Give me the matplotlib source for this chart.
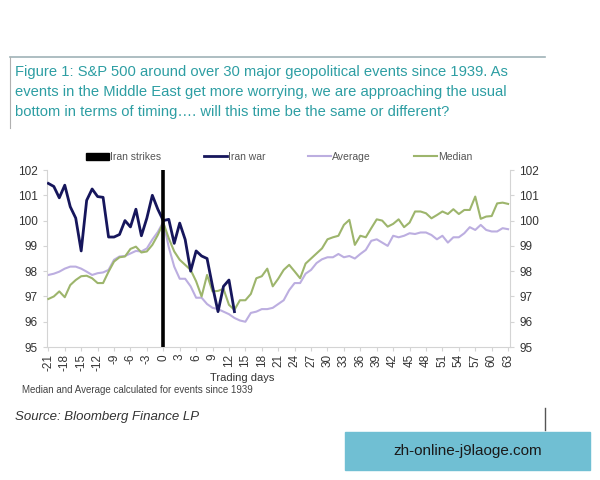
import matplotlib

matplotlib.use("Agg")
import matplotlib.pyplot as plt
from matplotlib.lines import Line2D
from matplotlib.patches import Rectangle

plt.rcParams["font.family"] = ["Liberation Sans", "DejaVu Sans"]

# ---------------------------------------------------------------------------
# Data (S&P 500 rebased to 100 at day 0)
# ---------------------------------------------------------------------------
war_days = list(range(-21, 14))
iran_war = [
    101.47, 101.35, 100.9, 101.4, 100.55, 100.1, 98.8, 100.8, 101.25, 100.95,
    100.92, 99.35, 99.35, 99.45, 100.0, 99.75, 100.45, 99.4, 100.1, 101.0,
    100.45, 100.0, 100.05, 99.1, 99.9, 99.25, 98.0, 98.8, 98.6, 98.5,
    97.4, 96.4, 97.4, 97.65, 96.4,
]

days = list(range(-21, 64))
average = [
    97.85, 97.9, 97.98, 98.1, 98.18, 98.18, 98.1, 97.98, 97.85, 97.92,
    97.95, 98.05, 98.45, 98.58, 98.6, 98.7, 98.8, 98.78, 98.9, 99.25,
    99.55, 99.95, 98.95, 98.18, 97.7, 97.7, 97.4, 96.95, 96.95, 96.7,
    96.55, 96.5, 96.4, 96.3, 96.15, 96.05, 96.0, 96.35, 96.4, 96.5,
    96.5, 96.55, 96.7, 96.85, 97.25, 97.53, 97.53, 97.9, 98.05, 98.32,
    98.47, 98.55, 98.55, 98.68, 98.55, 98.6, 98.5, 98.68, 98.84, 99.2,
    99.26, 99.13, 99.0, 99.4, 99.34, 99.4, 99.5, 99.47, 99.53, 99.53,
    99.43, 99.26, 99.4, 99.13, 99.34, 99.34, 99.5, 99.74, 99.63, 99.83,
    99.63, 99.57, 99.57, 99.7, 99.66,
]
median = [
    96.9, 97.0, 97.2, 96.97, 97.45, 97.65, 97.8, 97.82, 97.72, 97.53,
    97.53, 97.98, 98.38, 98.55, 98.58, 98.88, 98.97, 98.74, 98.78, 99.04,
    99.43, 99.92, 99.3, 98.78, 98.45, 98.25, 98.05, 97.6, 97.0, 97.85,
    97.2, 97.22, 97.3, 96.67, 96.47, 96.85, 96.85, 97.1, 97.72, 97.8,
    98.1, 97.4, 97.7, 98.05, 98.25, 97.99, 97.72, 98.3, 98.5, 98.7,
    98.9, 99.26, 99.34, 99.4, 99.83, 100.03, 99.04, 99.4, 99.34, 99.7,
    100.05, 100.0, 99.76, 99.87, 100.05, 99.74, 99.92, 100.36, 100.36, 100.29,
    100.09, 100.22, 100.36, 100.26, 100.45, 100.26, 100.42, 100.42, 100.95, 100.07,
    100.16, 100.18, 100.68, 100.71, 100.66,
]
strike_day = 0

title_lines = [
    "Figure 1: S&P 500 around over 30 major geopolitical events since 1939. As",
    "events in the Middle East get more worrying, we are approaching the usual",
    "bottom in terms of timing\u2026. will this time be the same or different?",
]
x_ticks = list(range(-21, 64, 3))
y_ticks = list(range(95, 103))

NAVY = "#16165c"
LAVENDER = "#bcaee0"
OLIVE = "#9db56c"
TEAL = "#2d9ea3"
SPINE = "#d4d4d4"

fig = plt.figure(figsize=(6.0, 4.8), dpi=100)
ax = fig.add_axes([0.0783, 0.277, 0.7717, 0.3688])

ax.plot(days, average, color=LAVENDER, lw=1.5, label="Average", zorder=2)
ax.plot(days, median, color=OLIVE, lw=1.5, label="Median", zorder=3)
ax.plot(war_days, iran_war, color=NAVY, lw=2.0, label="Iran war", zorder=4)
ax.vlines(strike_day, 95, 102, color="black", lw=2.6, zorder=5)

ax.set_xlim(-21.25, 63.35)
ax.set_ylim(95, 102)
ax.set_xticks(x_ticks)
ax.set_xticklabels([str(t) for t in x_ticks], rotation=90)
ax.set_yticks(y_ticks)
ax.tick_params(axis="both", colors=SPINE, labelcolor="#333333", labelsize=8.5,
               length=3, width=0.8)
ax.tick_params(axis="x", pad=2)
ax.tick_params(axis="y", right=True, labelright=True)
ax.spines["top"].set_visible(False)
for side in ("left", "right", "bottom"):
    ax.spines[side].set_color(SPINE)
ax.set_xlabel("Trading days", fontsize=8, color="#333333", labelpad=1,
              fontstretch="condensed")
ax.xaxis.set_label_coords(0.422, -0.148)

handles = [
    Rectangle((0, 0), 1, 1, color="black"),
    Line2D([], [], color=NAVY, lw=2.0),
    Line2D([], [], color=LAVENDER, lw=1.5),
    Line2D([], [], color=OLIVE, lw=1.5),
]
leg = fig.legend(handles, ["Iran strikes", "Iran war", "Average", "Median"],
                 loc="center left", bbox_to_anchor=(0.144, 0.673), ncol=4,
                 frameon=False, fontsize=7.5, handlelength=2.2, handleheight=0.7,
                 handletextpad=0.1, columnspacing=4.1, borderpad=0,
                 borderaxespad=0)
for t in leg.get_texts():
    t.set_color("#555555")

# title block with its frame lines
for i, line in enumerate(title_lines):
    fig.text(0.025, 0.850 - i * 0.0415, line, fontsize=10.6, color=TEAL,
             va="center", ha="left")
fig.add_artist(Line2D([0.017, 0.908], [0.881, 0.881], color="#9fb3b8", lw=1.2))
fig.add_artist(Line2D([0.017, 0.017], [0.881, 0.733], color="#b0b0b0", lw=0.8))

fig.text(0.037, 0.187, "Median and Average calculated for events since 1939",
         fontsize=7, color="#444444", va="center")
fig.text(0.025, 0.131, "Source: Bloomberg Finance LP", fontsize=9.5,
         style="italic", color="#333333", va="center")
fig.add_artist(Line2D([0.908, 0.908], [0.150, 0.104], color="#555555", lw=1.0))

# watermark box
fig.add_artist(Rectangle((0.575, 0.021), 0.408, 0.079, transform=fig.transFigure,
                         color="#70bfd3", zorder=0))
fig.text(0.779, 0.061, "zh-online-j9laoge.com", fontsize=11, color="#1a1a1a",
         ha="center", va="center")

fig.savefig("out.png", dpi=100)
